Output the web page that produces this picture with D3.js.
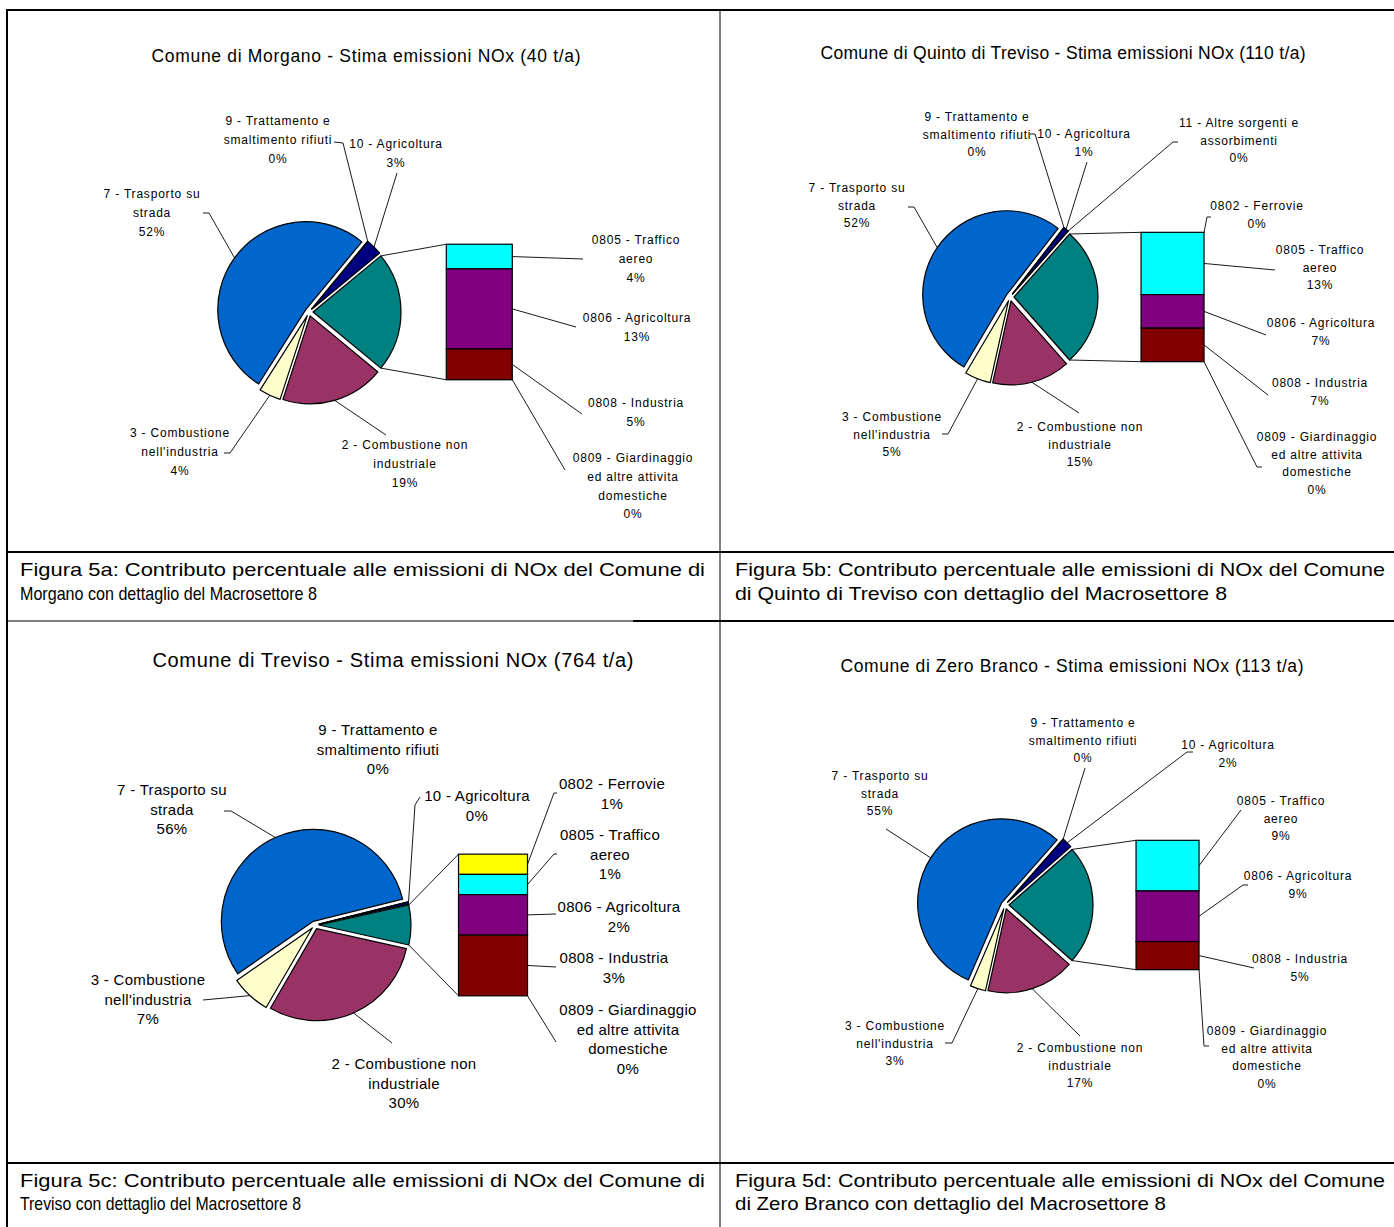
<!DOCTYPE html>
<html>
<head>
<meta charset="utf-8">
<script src="https://cdn.jsdelivr.net/npm/d3@7"></script>
<style>
  body { margin: 0; background: #fff; }
  svg { display: block; font-family: "Liberation Sans", Arial, sans-serif; }
</style>
</head>
<body>
<svg id="chart" width="1394" height="1227"></svg>
<script>
// ---------- data ----------
const pieCategories = [
  "2 - Combustione non\nindustriale",
  "3 - Combustione\nnell'industria",
  "7 - Trasporto su\nstrada",
  "9 - Trattamento e\nsmaltimento rifiuti",
  "10 - Agricoltura",
  "11 - Altre sorgenti e\nassorbimenti"
];
const barCategories = [
  "0802 - Ferrovie",
  "0805 - Traffico\naereo",
  "0806 - Agricoltura",
  "0808 - Industria",
  "0809 - Giardinaggio\ned altre attivita\ndomestiche"
];
// percent shares (null = sector not present in that chart)
const morganoPie = [19, 4, 52, 0, 3, null];
const morganoBar = [null, 4, 13, 5, 0];
const quintoPie  = [15, 5, 52, 0, 1, 0];
const quintoBar  = [0, 13, 7, 7, 0];
const trevisoPie = [30, 7, 56, 0, 0.4, null];
const trevisoBar = [1, 1, 2, 3, 0];
const zeroPie    = [17, 3, 55, 0, 2, null];
const zeroBar    = [null, 9, 9, 5, 0];

const comuni = ["Morgano", "Quinto di Treviso", "Treviso", "Zero Branco"];
const totaliNOx = [40, 110, 764, 113];
const captionLine1 = [
  "Figura 5a: Contributo percentuale alle emissioni di NOx del Comune di",
  "Figura 5b: Contributo percentuale alle emissioni di NOx del Comune",
  "Figura 5c: Contributo percentuale alle emissioni di NOx del Comune di",
  "Figura 5d: Contributo percentuale alle emissioni di NOx del Comune"
];
const captionLine2 = [
  "Morgano con dettaglio del Macrosettore 8",
  "di Quinto di Treviso con dettaglio del Macrosettore 8",
  "Treviso con dettaglio del Macrosettore 8",
  "di Zero Branco con dettaglio del Macrosettore 8"
];
const pieSeries = [morganoPie, quintoPie, trevisoPie, zeroPie];
const barSeries = [morganoBar, quintoBar, trevisoBar, zeroBar];

// ---------- styles ----------
const pieColors = ["#993366", "#FFFFCC", "#0066CC", "#FF00FF", "#000080", "#CCFFFF"];
const otherColor = "#008080";
const barColors = ["#FFFF00", "#00FFFF", "#800080", "#800000", "#008080"];

// ---------- layout per panel ----------
// label entries: [textX, firstLineY, anchorX, anchorY, elbowDx, elbowDy]
const layouts = [
  { cx: 309, cy: 312, r: 88, fs: 12, ls: 0.8, lh: 18.7,
    title: { x: 366, y: 56, w: 429, fs: 17.5 },
    cap: { x: 20, y1: 576, y2: 600, w1: 685, w2: 297 },
    pieLabels: [[405, 445, 386, 435], [180, 433, 224, 453, 6, 0], [152, 194, 203, 213, 6, 0],
                [278, 121, 334, 142, 9, 1], [396, 144, 397, 173], null],
    barLabels: [null, [636, 240, 583, 259], [637, 318, 576, 327], [636, 403, 582, 414], [633, 458, 565, 470]] },
  { cx: 1010, cy: 297, r: 84, fs: 12, ls: 0.8, lh: 17.5,
    title: { x: 1063, y: 53, w: 485, fs: 17.5 },
    cap: { x: 735, y1: 576, y2: 600, w1: 650, w2: 492 },
    pieLabels: [[1080, 427, 1079, 413], [892, 417, 942, 434, 6, 0], [857, 188, 908, 207, 6, 0],
                [977, 117, 1030, 134, 5, 0], [1084, 134, 1087, 162], [1239, 123, 1178, 142, -5, 0]],
    barLabels: [[1257, 206, 1211, 217, -4, 0], [1320, 250, 1275, 270], [1321, 323, 1266, 335],
                [1320, 383, 1268, 395], [1317, 437, 1262, 467, -5, 0]] },
  { cx: 315, cy: 925, r: 92, fs: 15, ls: 0.3, lh: 19.5,
    title: { x: 393, y: 660, w: 481, fs: 20 },
    cap: { x: 20, y1: 1187, y2: 1210, w1: 685, w2: 281 },
    pieLabels: [[404, 1064, 392, 1043], [148, 980, 203, 1000], [172, 790, 224, 811, 7, 0],
                [378, 730, null], [477, 796, 420, 797, -5, 8], null],
    barLabels: [[612, 784, 557, 793, -3, 0], [610, 835, 557, 854, -3, 0], [619, 907, 556, 914],
                [614, 958, 556, 967], [628, 1010, 556, 1042]] },
  { cx: 1005, cy: 905, r: 84, fs: 12, ls: 0.8, lh: 17.5,
    title: { x: 1072, y: 666, w: 463, fs: 17.5 },
    cap: { x: 735, y1: 1187, y2: 1210, w1: 650, w2: 431 },
    pieLabels: [[1080, 1048, 1080, 1036], [895, 1026, 945, 1043, 7, 0], [880, 776, 886, 829],
                [1083, 723, 1085, 768], [1228, 745, 1193, 752, -6, 0], null],
    barLabels: [null, [1281, 801, 1241, 810], [1298, 876, 1248, 885, -5, 0],
                [1300, 959, 1254, 968], [1267, 1031, 1209, 1046, -5, 0]] }
];

const svg = d3.select("#chart");
const EXPLODE = 4;

// ---------- table grid ----------
const grid = svg.append("g").attr("stroke", "#000").attr("fill", "none");
const hLine = (y, x1, x2, w) => grid.append("line").attr("x1", x1).attr("x2", x2).attr("y1", y).attr("y2", y).attr("stroke-width", w);
const vLine = (x, y1, y2, w) => grid.append("line").attr("x1", x).attr("x2", x).attr("y1", y1).attr("y2", y2).attr("stroke-width", w);
hLine(10, 6, 1394, 2);
vLine(7, 9, 1227, 2);
vLine(720, 10, 1227, 1);
hLine(552, 6, 1394, 2);
hLine(621, 6, 633, 1);
hLine(621, 633, 1394, 2);
hLine(1163, 6, 1394, 2);

function drawLabel(g, lines, spec, L) {
  const t = g.append("text")
    .attr("font-size", L.fs)
    .attr("letter-spacing", L.ls)
    .attr("text-anchor", "middle")
    .attr("fill", "#000");
  lines.forEach((s, j) => {
    t.append("tspan").attr("x", spec[0]).attr("y", spec[1] + j * L.lh).attr("dy", "0.36em").text(s);
  });
}

function leader(g, src, spec) {
  if (spec[2] == null) return;
  const pts = [src];
  if (spec[4] !== undefined) pts.push([spec[2] + spec[4], spec[3] + spec[5]]);
  pts.push([spec[2], spec[3]]);
  g.append("path")
    .attr("d", d3.line()(pts))
    .attr("fill", "none")
    .attr("stroke", "#000")
    .attr("stroke-width", 0.9);
}

function drawPanel(i) {
  const L = layouts[i];
  const g = svg.append("g");

  const pieItems = pieCategories
    .map((name, k) => ({ name, value: pieSeries[i][k], color: pieColors[k], k }))
    .filter(d => d.value !== null);
  const barItems = barCategories
    .map((name, k) => ({ name, value: barSeries[i][k], color: barColors[k], k }))
    .filter(d => d.value !== null);

  const otherValue = d3.sum(barItems, d => d.value);
  const total = d3.sum(pieItems, d => d.value) + otherValue;
  const pct = v => Math.round(v / total * 100) + "%";

  // the aggregated Macrosettore 8 slice is centred at 3 o'clock, facing the bar
  const otherAngle = otherValue / total * 2 * Math.PI;
  const start = Math.PI / 2 + otherAngle / 2;
  const pieData = pieItems.concat([{ name: "8", value: otherValue, color: otherColor, other: true }]);
  const arcs = d3.pie().sort(null).value(d => d.value)
    .startAngle(start).endAngle(start + 2 * Math.PI)(pieData);
  const arc = d3.arc().innerRadius(0).outerRadius(L.r);

  const pieG = g.append("g").attr("transform", `translate(${L.cx},${L.cy})`);
  const polar = (a, rad) => [rad * Math.sin(a), -rad * Math.cos(a)];

  // title
  g.append("text")
    .attr("x", L.title.x).attr("y", L.title.y).attr("dy", "0.36em")
    .attr("text-anchor", "middle")
    .attr("font-size", L.title.fs)
    .attr("textLength", L.title.w).attr("lengthAdjust", "spacing")
    .text(`Comune di ${comuni[i]} - Stima emissioni NOx (${totaliNOx[i]} t/a)`);

  // bar geometry for the Macrosettore 8 breakdown
  const barX = L.cx + 1.56 * L.r;
  const barW = 0.75 * L.r;
  const y = d3.scaleLinear().domain([0, otherValue]).range([L.cy - 0.77 * L.r, L.cy + 0.77 * L.r]);

  // connector lines from the aggregated slice to the bar
  const otherArc = arcs[arcs.length - 1];
  const om = (otherArc.startAngle + otherArc.endAngle) / 2;
  const off = polar(om, EXPLODE);
  const p1 = polar(otherArc.startAngle, L.r), p2 = polar(otherArc.endAngle, L.r);
  g.append("line").attr("x1", L.cx + off[0] + p1[0]).attr("y1", L.cy + off[1] + p1[1])
    .attr("x2", barX).attr("y2", y(0)).attr("stroke", "#000").attr("stroke-width", 0.9);
  g.append("line").attr("x1", L.cx + off[0] + p2[0]).attr("y1", L.cy + off[1] + p2[1])
    .attr("x2", barX).attr("y2", y(otherValue)).attr("stroke", "#000").attr("stroke-width", 0.9);

  // pie slices
  arcs.forEach(a => {
    const m = (a.startAngle + a.endAngle) / 2;
    const o = polar(m, EXPLODE);
    pieG.append("path")
      .attr("d", arc(a))
      .attr("transform", `translate(${o[0]},${o[1]})`)
      .attr("fill", a.data.color)
      .attr("stroke", "#000")
      .attr("stroke-width", 1.2)
      .attr("stroke-linejoin", "round");
  });

  // pie labels + leaders
  arcs.forEach(a => {
    if (a.data.other) return;
    const spec = L.pieLabels[a.data.k];
    if (!spec) return;
    const m = (a.startAngle + a.endAngle) / 2;
    const o = polar(m, EXPLODE);
    const e = polar(m, L.r);
    leader(g, [L.cx + o[0] + e[0], L.cy + o[1] + e[1]], spec);
    drawLabel(g, a.data.name.split("\n").concat([pct(a.data.value)]), spec, L);
  });

  // stacked bar
  let acc = 0;
  barItems.forEach(d => {
    const y0 = y(acc), y1 = y(acc + d.value);
    acc += d.value;
    d.y0 = y0; d.y1 = y1;
    g.append("rect")
      .attr("x", barX).attr("y", y0)
      .attr("width", barW).attr("height", y1 - y0)
      .attr("fill", d.color)
      .attr("stroke", "#000").attr("stroke-width", 1.2);
  });
  barItems.forEach(d => {
    const spec = L.barLabels[d.k];
    if (!spec) return;
    leader(g, [barX + barW, (d.y0 + d.y1) / 2], spec);
    drawLabel(g, d.name.split("\n").concat([pct(d.value)]), spec, L);
  });

  // caption
  const cap = g.append("g").attr("font-size", 19).attr("fill", "#000");
  cap.append("text").attr("x", L.cap.x).attr("y", L.cap.y1)
    .attr("textLength", L.cap.w1).attr("lengthAdjust", "spacingAndGlyphs")
    .text(captionLine1[i]);
  cap.append("text").attr("x", L.cap.x).attr("y", L.cap.y2)
    .attr("textLength", L.cap.w2).attr("lengthAdjust", "spacingAndGlyphs")
    .text(captionLine2[i]);
}

comuni.forEach((c, i) => drawPanel(i));
</script>
</body>
</html>
